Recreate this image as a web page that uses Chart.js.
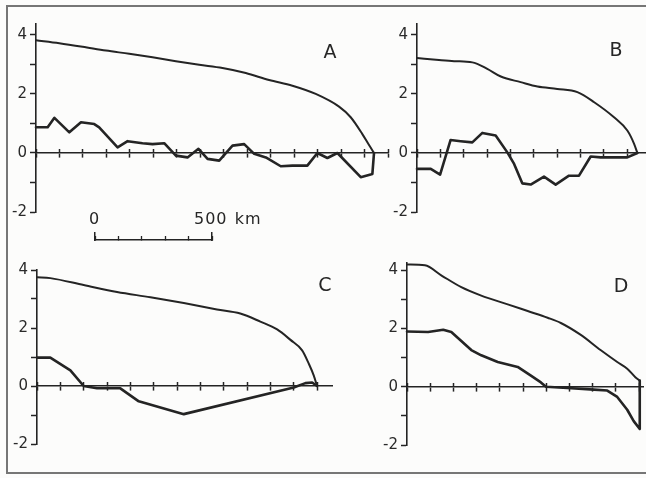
<!DOCTYPE html>
<html><head><meta charset="utf-8">
<script src="https://cdn.jsdelivr.net/npm/chart.js@4.4.1/dist/chart.umd.min.js"></script>
<style>
html,body{margin:0;padding:0;width:646px;height:478px;overflow:hidden;background:#fcfcfb;}
canvas{position:absolute;}
.frame{position:absolute;left:6px;top:5px;width:720px;height:465px;border-left:2px solid #767676;border-top:2px solid #767676;border-bottom:2px solid #767676;}
.lbl{position:absolute;font-family:"DejaVu Sans",sans-serif;color:#262626;line-height:1;white-space:nowrap;}
.letter{font-size:19px;transform:translate(-50%,-50%);}
.scl{font-size:16px;letter-spacing:1px;transform:translateY(-50%);}
</style></head><body>
<div class="frame"></div>
<canvas id="cA"></canvas>
<canvas id="cB"></canvas>
<canvas id="cC"></canvas>
<canvas id="cD"></canvas>
<canvas id="cS"></canvas>
<div class="lbl letter" style="left:330px;top:51px">A</div>
<div class="lbl letter" style="left:616px;top:49px">B</div>
<div class="lbl letter" style="left:325px;top:284px">C</div>
<div class="lbl letter" style="left:621px;top:285px">D</div>
<div class="lbl scl" style="left:89px;top:219px">0</div>
<div class="lbl scl" style="left:194px;top:219px;word-spacing:1px">500 km</div>
<script>
// ---------- data (distance in km, elevation in km) ----------
const xStepKm = 100;
const yLabelValues = [-2, 0, 2, 4];
const scaleBarKm = [0, 500];

const aUpperKm  = [0,100,200,300,400,500,600,700,800,900,1000,1100,1200,1300,1350,1400,1430,1450];
const aUpperVal = [3.82,3.72,3.60,3.47,3.36,3.24,3.11,2.99,2.88,2.71,2.47,2.28,2.00,1.57,1.21,0.64,0.25,0];
const aLowerKm  = [0,50,79,143,193,250,271,350,393,457,500,550,600,650,697,736,786,843,893,936,986,1050,1100,1164,1207,1250,1293,1393,1443,1450];
const aLowerVal = [0.87,0.87,1.19,0.70,1.04,0.98,0.87,0.19,0.40,0.33,0.30,0.33,-0.09,-0.15,0.14,-0.20,-0.26,0.25,0.30,-0.03,-0.15,-0.45,-0.43,-0.43,0,-0.17,0,-0.82,-0.71,0];

const bUpperKm  = [0,94,159,237,301,359,444,516,601,687,759,844,901,930,944];
const bUpperVal = [3.22,3.15,3.11,3.07,2.85,2.59,2.40,2.25,2.17,2.06,1.72,1.21,0.76,0.31,0];
const bLowerKm  = [0,59,99,144,187,237,280,337,387,416,451,487,544,594,651,694,744,787,901,944];
const bLowerVal = [-0.54,-0.54,-0.73,0.44,0.40,0.36,0.68,0.59,0.02,-0.37,-1.03,-1.07,-0.80,-1.07,-0.77,-0.77,-0.12,-0.15,-0.15,0];

const cUpperKm  = [0,57,200,343,486,629,771,871,957,1029,1086,1136,1164,1186,1200];
const cUpperVal = [3.75,3.72,3.48,3.24,3.06,2.86,2.64,2.50,2.22,1.95,1.59,1.23,0.78,0.36,0];
const cLowerKm  = [0,57,143,200,257,357,436,629,1100,1150,1179,1200];
const cLowerVal = [0.98,0.98,0.54,0,-0.08,-0.08,-0.53,-0.97,-0.05,0.10,0.12,0];

const dUpperKm  = [0,77,149,234,320,434,520,606,663,749,834,906,949,984,1003];
const dUpperVal = [4.20,4.17,3.82,3.42,3.13,2.83,2.60,2.37,2.19,1.78,1.26,0.85,0.62,0.33,0.21];
const dLowerKm  = [0,91,156,191,234,277,320,391,477,534,577,599,691,806,863,906,949,977,1003,1003];
const dLowerVal = [1.90,1.88,1.96,1.88,1.57,1.26,1.08,0.85,0.68,0.38,0.15,0,-0.04,-0.10,-0.13,-0.35,-0.79,-1.18,-1.45,0.21];

// ---------- drawing ----------
const INK = '#242424';
const TXT = '#2a2a2a';
const pts = (xs, ys) => xs.map((x, i) => ({x: x, y: ys[i]}));

function lineSet(data, smooth) {
  const ds = {data: data, borderColor: INK, borderWidth: smooth ? 2.0 : 2.6, pointRadius: 0, tension: 0,
          fill: false, borderJoinStyle: 'round', borderCapStyle: 'round', clip: 6};
  if (smooth) ds.cubicInterpolationMode = 'monotone';
  return ds;
}

function xAxis(xMax, tl, showBorder) {
  return {
    type: 'linear', axis: 'x', position: {y: 0}, min: 0, max: xMax,
    ticks: {display: false, stepSize: xStepKm, includeBounds: false},
    grid: {display: true, drawOnChartArea: false, drawTicks: true, tickLength: tl, tickWidth: 1.5, tickColor: INK},
    border: {display: showBorder, color: INK, width: 1.6},
    afterFit: s => { s.height = 0; }
  };
}

function panel(id, box, xMax, yMax, upper, lower) {
  const W = 34, padT = 12, padB = 12, padR = 4;
  const cv = document.getElementById(id);
  const aw = box.right - box.left, ah = box.bottom - box.top;
  cv.width = W + aw + padR;
  cv.height = ah + padT + padB;
  cv.style.left = (box.left - W) + 'px';
  cv.style.top = (box.top - padT) + 'px';
  new Chart(cv, {
    type: 'line',
    data: {datasets: [lineSet(upper, true), lineSet(lower, false)]},
    options: {
      responsive: false, animation: false, devicePixelRatio: 1,
      layout: {padding: {left: 0, right: padR, top: padT, bottom: padB}},
      plugins: {legend: {display: false}, tooltip: {enabled: false}, title: {display: false}},
      scales: {
        x: xAxis(xMax, 4, true),
        x2: xAxis(xMax, -4, false),
        y: {
          type: 'linear', position: 'left', min: -2, max: yMax,
          ticks: {stepSize: 1, includeBounds: false, autoSkip: false, padding: 3, color: TXT,
                  font: {family: 'DejaVu Sans', size: 15},
                  callback: v => yLabelValues.includes(v) ? String(v) : ''},
          grid: {display: true, drawOnChartArea: false, drawTicks: true, tickLength: 6, tickWidth: 1.5, tickColor: INK},
          border: {display: true, color: INK, width: 1.6},
          afterFit: s => { s.width = W; }
        }
      }
    }
  });
}

panel('cA', {left: 36, top: 24, right: 388, bottom: 212}, 1510, 4.37, pts(aUpperKm, aUpperVal), pts(aLowerKm, aLowerVal));
panel('cB', {left: 417, top: 24, right: 646, bottom: 212}, 981, 4.37, pts(bUpperKm, bUpperVal), pts(bLowerKm, bLowerVal));
panel('cC', {left: 37, top: 270, right: 332, bottom: 444}, 1264, 4, pts(cUpperKm, cUpperVal), pts(cLowerKm, cLowerVal));
panel('cD', {left: 407, top: 263, right: 643, bottom: 445}, 1017, 4.25, pts(dUpperKm, dUpperVal), pts(dLowerKm, dLowerVal));

// scale bar 0 - 500 km
(function () {
  const cv = document.getElementById('cS');
  const left = 95, right = 212, top = 233, bottom = 240, pad = 10;
  cv.width = (right - left) + 2 * pad;
  cv.height = (bottom - top) + 2 * pad;
  cv.style.left = (left - pad) + 'px';
  cv.style.top = (top - pad) + 'px';
  const edge = pos => ({
    type: 'linear', axis: 'y', position: pos, min: 0, max: 1,
    ticks: {display: false}, grid: {display: false},
    border: {display: true, color: INK, width: 1.5},
    afterFit: s => { s.width = 0; }
  });
  new Chart(cv, {
    type: 'line',
    data: {datasets: []},
    options: {
      responsive: false, animation: false, devicePixelRatio: 1,
      layout: {padding: pad},
      plugins: {legend: {display: false}, tooltip: {enabled: false}},
      scales: {
        x: {
          type: 'linear', position: 'bottom', min: scaleBarKm[0], max: scaleBarKm[1],
          ticks: {display: false, stepSize: xStepKm, includeBounds: false},
          grid: {display: true, drawOnChartArea: false, drawTicks: true, tickLength: -4, tickWidth: 1.3, tickColor: INK},
          border: {display: true, color: INK, width: 1.5},
          afterFit: s => { s.height = 0; }
        },
        y: edge('left'),
        y2: edge('right')
      }
    }
  });
})();
</script>
</body></html>
